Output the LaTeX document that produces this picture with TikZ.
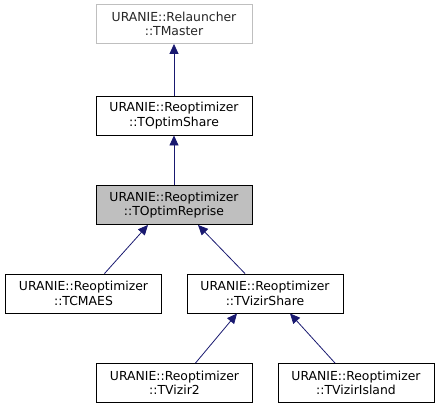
\documentclass[tikz,border=0pt]{standalone}
\usepackage{fontspec}
\setmainfont{DejaVu Sans}
\usetikzlibrary{arrows.meta}
\definecolor{edgeblue}{HTML}{191970}
\definecolor{boxgray}{HTML}{BFBFBF}
\tikzset{
  cls/.style={draw=black, line width=0.9pt, fill=white, minimum width=156pt, minimum height=39pt, inner sep=0pt, align=center, font=\fontsize{12.4pt}{14.5pt}\selectfont},
  ext/.style={cls, draw=boxgray, text=black!85},
  cur/.style={cls, fill=boxgray},
  inh/.style={draw=edgeblue, line width=0.8pt, {Triangle[length=10pt,width=9pt]}-},
}
\begin{document}
\begin{tikzpicture}[x=1pt,y=-1pt]
\useasboundingbox (0,0) rectangle (440,409);
\node[ext] (master) at (174,24) {URANIE::Relauncher\\::TMaster};
\node[cls] (share) at (174,115.5) {URANIE::Reoptimizer\\::TOptimShare};
\node[cur] (reprise) at (174,205) {URANIE::Reoptimizer\\::TOptimReprise};
\node[cls] (cmaes) at (83.5,293.5) {URANIE::Reoptimizer\\::TCMAES};
\node[cls] (vshare) at (265,293.5) {URANIE::Reoptimizer\\::TVizirShare};
\node[cls] (vizir2) at (174.5,383) {URANIE::Reoptimizer\\::TVizir2};
\node[cls] (island) at (356,383) {URANIE::Reoptimizer\\::TVizirIsland};
\draw[inh] (master.south) -- (share.north);
\draw[inh] (share.south) -- (reprise.north);
\draw[inh] ([xshift=-26pt]reprise.south) -- ([xshift=21pt]cmaes.north);
\draw[inh] ([xshift=24pt]reprise.south) -- ([xshift=-20pt]vshare.north);
\draw[inh] ([xshift=-28pt]vshare.south) -- ([xshift=21pt]vizir2.north);
\draw[inh] ([xshift=25pt]vshare.south) -- ([xshift=-21pt]island.north);
\end{tikzpicture}
\end{document}
